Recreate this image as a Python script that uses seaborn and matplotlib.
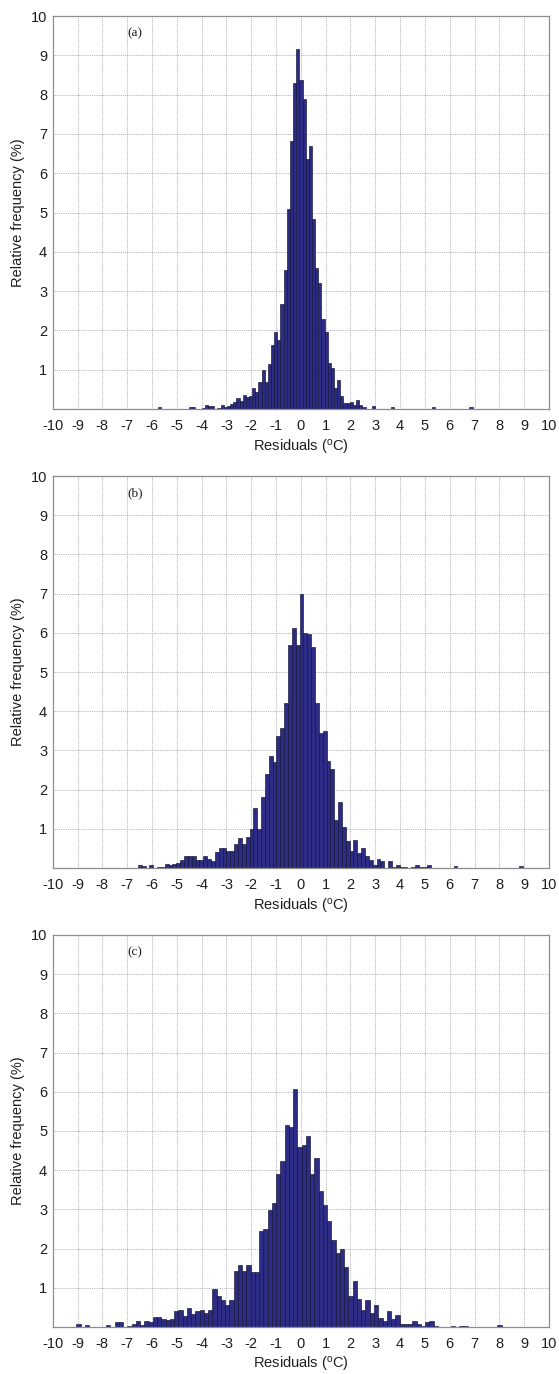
import numpy as np
import pandas as pd
import matplotlib
matplotlib.use("Agg")
import matplotlib.pyplot as plt
import seaborn as sns

# ---------------- data ----------------
panel_labels = ["(a)", "(b)", "(c)"]
# data range (min, max) of residuals covered by the 100 histogram bins
range_a = (-5.77, 6.92)
range_b = (-6.57, 8.95)
range_c = (-9.05, 8.09)

freq_a = [0.05, 0, 0, 0, 0, 0, 0, 0, 0, 0,
          0.05, 0.05, 0, 0, 0.03, 0.11, 0.08, 0.07, 0, 0.03,
          0.11, 0.05, 0.08, 0.12, 0.18, 0.27, 0.20, 0.36, 0.30, 0.33,
          0.53, 0.44, 0.68, 0.98, 0.68, 1.15, 1.64, 1.97, 1.76, 2.68,
          3.54, 5.10, 6.83, 8.29, 9.17, 8.37, 7.88, 6.36, 6.68, 4.83,
          3.59, 3.20, 2.29, 1.97, 1.17, 1.05, 0.53, 0.73, 0.34, 0.14,
          0.15, 0.17, 0.10, 0.24, 0.10, 0.05, 0, 0, 0.08, 0,
          0, 0, 0, 0, 0.04, 0, 0, 0, 0, 0,
          0, 0, 0, 0, 0, 0, 0, 0.04, 0, 0,
          0, 0, 0, 0, 0, 0, 0, 0, 0, 0.05]

freq_b = [0.08, 0.04, 0, 0.08, 0, 0.03, 0.03, 0.10, 0.08, 0.11,
          0.13, 0.21, 0.31, 0.31, 0.31, 0.20, 0.20, 0.31, 0.24, 0.17,
          0.40, 0.52, 0.52, 0.44, 0.44, 0.60, 0.76, 0.60, 0.80, 1.00,
          1.53, 1.00, 1.80, 2.41, 2.86, 2.70, 3.38, 3.58, 4.20, 5.69,
          6.13, 5.70, 6.98, 6.00, 5.96, 5.65, 4.20, 3.45, 3.50, 2.74,
          2.52, 1.22, 1.69, 1.04, 0.68, 0.44, 0.72, 0.37, 0.50, 0.30,
          0.21, 0.08, 0.24, 0.17, 0, 0.17, 0.03, 0.08, 0.03, 0.03,
          0, 0.03, 0.08, 0.03, 0.03, 0.08, 0, 0, 0, 0,
          0, 0, 0.05, 0, 0, 0, 0, 0, 0, 0,
          0, 0, 0, 0, 0, 0, 0, 0, 0, 0.05]

freq_c = [0.08, 0, 0.04, 0, 0, 0, 0, 0.04, 0, 0.12,
          0.12, 0, 0.03, 0.08, 0.16, 0.04, 0.16, 0.12, 0.25, 0.25,
          0.21, 0.17, 0.21, 0.42, 0.44, 0.27, 0.48, 0.33, 0.42, 0.44,
          0.36, 0.44, 0.97, 0.80, 0.69, 0.57, 0.70, 1.42, 1.57, 1.44,
          1.57, 1.41, 1.41, 2.45, 2.50, 2.98, 3.17, 3.90, 4.24, 5.16,
          5.09, 6.08, 4.60, 4.65, 4.88, 3.90, 4.32, 3.47, 3.12, 2.70,
          2.22, 1.89, 2.00, 1.53, 0.80, 1.17, 0.72, 0.43, 0.68, 0.36,
          0.57, 0.23, 0.16, 0.40, 0.21, 0.31, 0.08, 0.07, 0.07, 0.16,
          0.07, 0.03, 0.14, 0.16, 0.03, 0, 0, 0, 0.03, 0,
          0.03, 0.03, 0, 0, 0, 0, 0, 0, 0, 0.04]

x_ticks = list(range(-10, 11))
y_ticks = list(range(1, 11))
x_label = "Residuals ($^{o}$C)"
y_label = "Relative frequency (%)"

# ---------------- style ----------------
sns.set_style("white")
plt.rcParams["font.family"] = ["Liberation Sans", "DejaVu Sans"]
plt.rcParams["mathtext.default"] = "regular"

bar_color = "#2c2c84"
spine_color = "#8c8c8c"
text_color = "#1e1e1e"

fig = plt.figure(figsize=(5.59, 13.74), dpi=100)
W, H = 559.0, 1374.0
left_px, right_px = 52.7, 549.0
panels_px = [(16, 409), (476, 868), (935, 1327)]

datasets = [(range_a, freq_a), (range_b, freq_b), (range_c, freq_c)]

for (top, bottom), (rng, freq), lab in zip(panels_px, datasets, panel_labels):
    ax_h = bottom - top
    ax_w = right_px - left_px
    ax = fig.add_axes([left_px / W, (H - bottom) / H, ax_w / W, ax_h / H])
    edges = np.linspace(rng[0], rng[1], len(freq) + 1)
    centers = 0.5 * (edges[:-1] + edges[1:])
    df = pd.DataFrame({"residual": centers, "freq": np.asarray(freq, dtype=float)})
    sns.histplot(data=df, x="residual", weights="freq", bins=edges.tolist(), ax=ax,
                 color=bar_color, edgecolor="#121236", linewidth=0.45,
                 alpha=1.0, stat="count")
    ax.set_xlim(-10, 10)
    ax.set_ylim(0, 10)
    ax.set_xticks(x_ticks)
    ax.set_xticklabels([str(t) for t in x_ticks])
    ax.set_yticks(y_ticks)
    ax.set_yticklabels([str(t) for t in y_ticks])
    ax.set_axisbelow(True)
    ax.grid(True, which="major", linestyle=(0, (1, 1.2)), color="#a0a0a0",
            linewidth=0.6)
    for s in ax.spines.values():
        s.set_color(spine_color)
        s.set_linewidth(0.9)
    ax.tick_params(axis="both", direction="in", length=0, labelsize=10.5,
                   colors=text_color, pad=7)
    ax.tick_params(axis="y", pad=4)
    ax.set_xlabel(x_label, fontsize=10.5, color=text_color, va="center")
    ax.set_ylabel(y_label, fontsize=10.5, color=text_color, va="center")
    ax.xaxis.set_label_coords(0.5, -38.0 / ax_h)
    ax.yaxis.set_label_coords(-34.5 / ax_w, 0.5)
    ax.text(-6.68, 9.57, lab, fontsize=9.5, family=["Liberation Serif", "DejaVu Serif"],
            ha="center", va="center", color=text_color)

fig.savefig("out.png", dpi=100)
